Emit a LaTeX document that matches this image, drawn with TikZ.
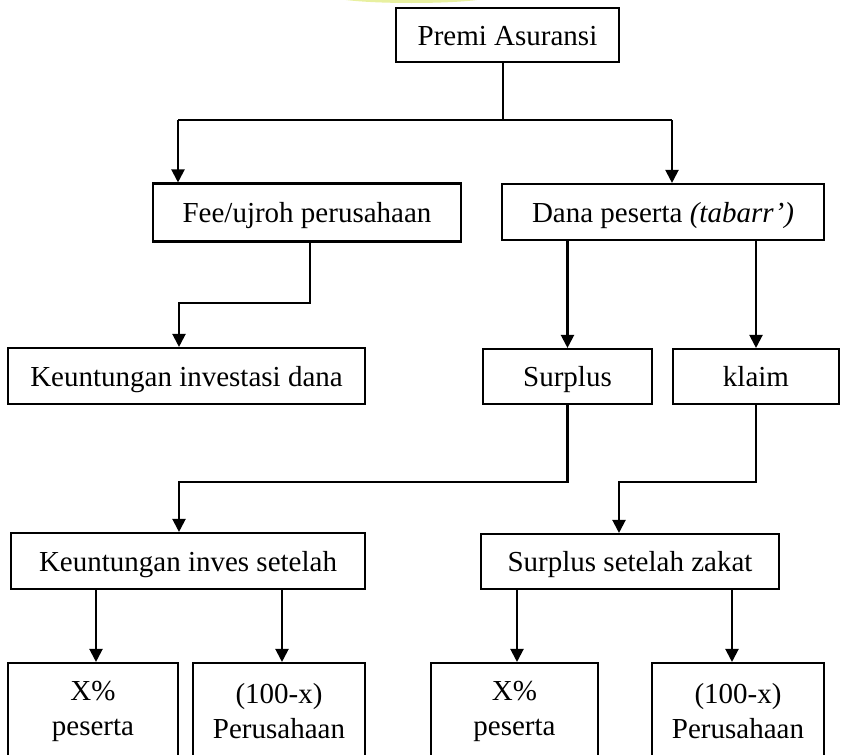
\documentclass[tikz,border=0pt]{standalone}
\usepackage{fontspec}
\setmainfont{Liberation Serif}
\usetikzlibrary{arrows.meta}
\definecolor{hlyellow}{RGB}{232,240,160}

\begin{document}
\begin{tikzpicture}[x=1pt, y=-1pt,
        box/.style={draw, line width=2.1pt, inner sep=0pt, align=center,
            font=\fontsize{29}{35}\selectfont},
        onebox/.style={box, text height=20pt, text depth=0pt},
        line/.style={line width=2.1pt},
        arr/.style={line, -{Triangle[width=13pt,length=13pt]}}]
            \useasboundingbox (0,0) rectangle (841,755);
            \fill[hlyellow] (411.5,-4) ellipse (80 and 7);

            % boxes
            \node (premi) at (507.5,35) [onebox, minimum width=223pt, minimum height=54pt]{Premi Asuransi};
            \node (fee) at (307,212.5) [onebox, minimum width=308pt, minimum height=58pt]{Fee/ujroh perusahaan};
            \node (dana) at (663,212) [onebox, minimum width=322pt, minimum height=56pt]{Dana peserta \textit{(tabarr’)}};
            \node (kid) at (186.5,376) [onebox, minimum width=357pt, minimum height=56pt]{Keuntungan investasi dana};
            \node (surplus) at (567.5,376.5) [onebox, minimum width=169pt, minimum height=55pt]{Surplus};
            \node (klaim) at (756,376.5) [onebox, minimum width=166pt, minimum height=55pt]{klaim};
            \node (kis) at (188,561) [onebox, minimum width=354pt, minimum height=56pt]{Keuntungan inves setelah};
            \node (ssz) at (630,561.5) [onebox, minimum width=298pt, minimum height=55pt]{Surplus setelah zakat};
            \foreach \n/\x/\w/\t in {xa/93/170/{X\%\\peserta}, pa/279/172/{(100-x)\\Perusahaan},
                                     xb/514.5/167/{X\%\\peserta}, pb/738/172/{(100-x)\\Perusahaan}}{
                \node (\n) at (\x,711.5) [box, minimum width=\w pt, minimum height=97pt]{\t};
            }

            % connectors
            \coordinate (p1) at (503,120);
            \coordinate (p2) at (178,120);
            \coordinate (p3) at (672,120);
            \draw[line] (premi.south -| p1) -- (p1);
            \draw[line] (p2) -- (p3);
            \draw[arr] (p2) -- (p2 |- fee.north);
            \draw[arr] (p3) -- (p3 |- dana.north);

            \coordinate (f1) at (179,303);
            \draw[arr] (fee.south -| 310,0) |- (f1) -- (f1 |- kid.north);

            \draw[arr] (dana.south -| surplus) -- (surplus.north);
            \draw[arr] (dana.south -| klaim) -- (klaim.north);

            \coordinate (s1) at (179,482);
            \coordinate (k1) at (619,482);
            \draw[arr] (surplus.south) |- (s1) -- (s1 |- kis.north);
            \draw[arr] (klaim.south) |- (k1) -- (k1 |- ssz.north);

            \foreach \x/\s/\b in {96/kis/xa, 282/kis/pa, 517/ssz/xb, 732/ssz/pb}{
                \draw[arr] (\x,0 |- \s.south) -- (\x,0 |- \b.north);
            }
        \end{tikzpicture}
\end{document}
